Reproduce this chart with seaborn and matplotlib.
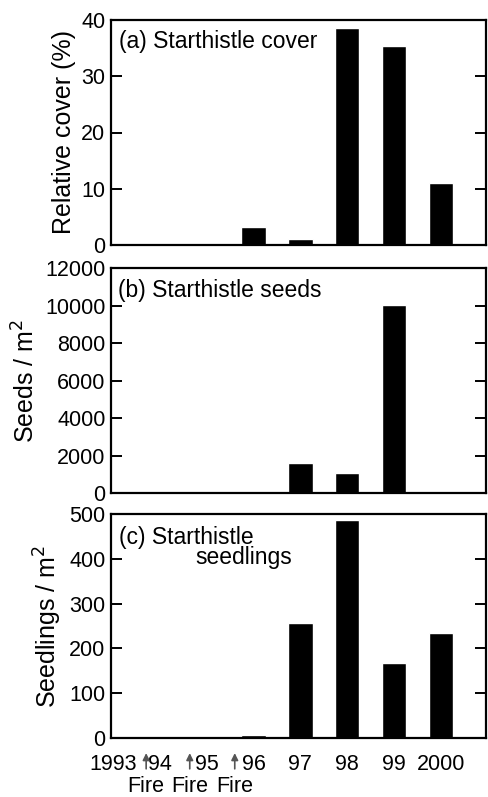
import numpy as np
import pandas as pd
import matplotlib
matplotlib.use("Agg")
import matplotlib.pyplot as plt
import seaborn as sns

# dados
anos = ["1993", "94", "95", "96", "97", "98", "99", "2000"]
cobertura = [0, 0, 0, 3.2, 1.0, 38.5, 35.4, 11.0]
sementes = [0, 0, 0, 0, 1600, 1070, 10050, 0]
plantulas = [0, 0, 0, 7, 257, 487, 167, 234]
fogo_x = [0.71, 1.64, 2.60]
fogo_txt = ["Fire", "Fire", "Fire"]

sns.set_style("ticks", {"axes.edgecolor": "black", "text.color": "black",
                        "xtick.color": "black", "ytick.color": "black",
                        "axes.labelcolor": "black", "axes.axisbelow": False})
plt.rcParams["font.family"] = ["Liberation Sans", "DejaVu Sans"]

W, H = 488, 797
fig = plt.figure(figsize=(W / 100, H / 100), dpi=100)

def caixa(top, bottom, left=111, right=486):
    return [left / W, 1 - bottom / H, (right - left) / W, (bottom - top) / H]

paineis = [
    (caixa(20, 245), cobertura, 40, 10, "Relative cover (%)"),
    (caixa(268, 493), sementes, 12000, 2000, "Seeds / m$^2$"),
    (caixa(514, 738), plantulas, 500, 100, "Seedlings / m$^2$"),
]

axes = []
for pos, vals, ymax, passo, rotulo in paineis:
    ax = fig.add_axes(pos)
    df = pd.DataFrame({"ano": anos, "valor": vals})
    sns.barplot(data=df, x="ano", y="valor", order=anos, color="black",
                saturation=1, width=0.52, ax=ax)
    ax.set_xlim(-0.04, 7.96)
    ax.set_ylim(0, ymax)
    ax.set_yticks(np.arange(0, ymax + 1, passo))
    ax.set_xlabel("")
    ax.set_ylabel(rotulo, fontsize=18, labelpad=4)
    ax.set_axisbelow(False)
    for s in ax.spines.values():
        s.set_linewidth(1.6)
    axes.append(ax)

axes[0].text(0.021, 0.955, "(a) Starthistle cover", transform=axes[0].transAxes,
             fontsize=16.5, va="top", ha="left")
axes[1].text(0.018, 0.95, "(b) Starthistle seeds", transform=axes[1].transAxes,
             fontsize=16.5, va="top", ha="left")
axes[2].text(0.021, 0.945, "(c) Starthistle", transform=axes[2].transAxes,
             fontsize=16.5, va="top", ha="left")
axes[2].text(0.224, 0.855, "seedlings", transform=axes[2].transAxes,
             fontsize=16.5, va="top", ha="left")

# setas de fogo
tr = axes[2].get_xaxis_transform()
for x, t in zip(fogo_x, fogo_txt):
    axes[2].annotate("", xy=(x, -0.055), xytext=(x, -0.15), xycoords=tr,
                     textcoords=tr,
                     arrowprops=dict(arrowstyle="-|>,head_width=0.2,head_length=0.4",
                                     color="#555555", lw=1.2),
                     annotation_clip=False)
    axes[2].text(x, -0.215, t, transform=tr, fontsize=15.5, ha="center",
                 va="center", clip_on=False)

for i, ax in enumerate(axes):
    ax.tick_params(axis="y", direction="in", length=8, width=1.4,
                   color="black", labelsize=15.5, pad=4, left=True, right=True)
    ax.tick_params(axis="x", bottom=False, labelsize=15.5, pad=8,
                   labelbottom=(i == 2))

fig.savefig("out.png", dpi=100)
